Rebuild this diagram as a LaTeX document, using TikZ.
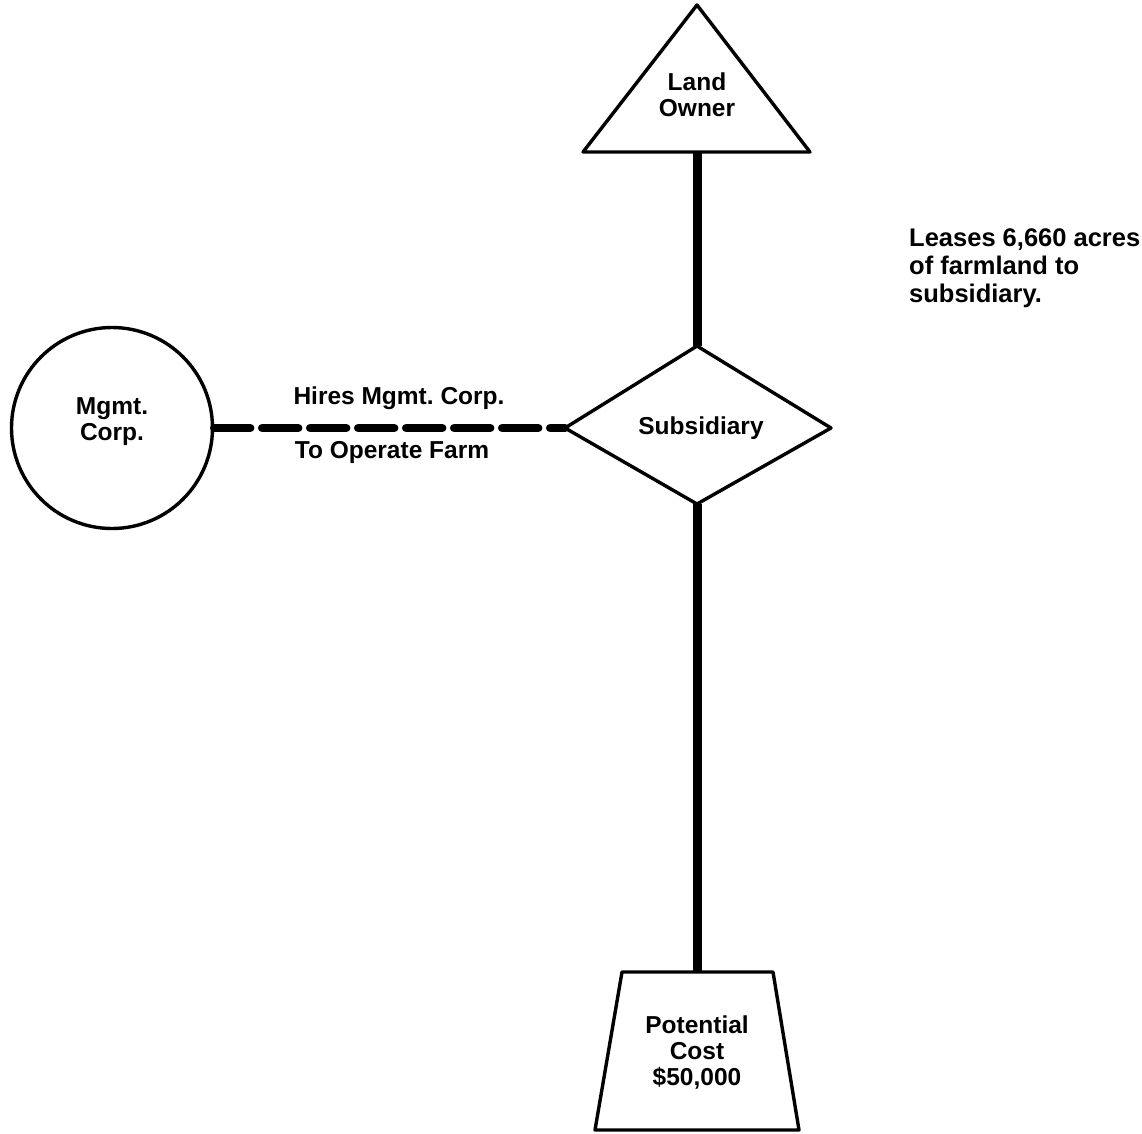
\documentclass[tikz,border=0pt]{standalone}
\usepackage{fontspec}
\setmainfont{Liberation Sans}
\frenchspacing
\begin{document}
\begin{tikzpicture}[x=1pt,y=-1pt,
  shapeline/.style={line width=3.4pt, line join=round},
  linkline/.style={line width=9pt},
  hireline/.style={line width=8.5pt, line cap=round, dash pattern=on 36pt off 12pt},
  lbl/.style={font=\bfseries\fontsize{24.5}{26}\selectfont, align=center, inner sep=0pt}]
\useasboundingbox (0,0) rectangle (1142,1133);
% triangle: Land Owner
\coordinate (triTop) at (697,5);
\coordinate (triL) at (583,152);
\coordinate (triR) at (810,152);
\coordinate (triB) at (697,152);
\draw[shapeline] (triTop) -- (triR) -- (triL) -- cycle;
\node[lbl] (land) at (697,95) {Land\\Owner};
% diamond: Subsidiary
\coordinate (diaT) at (697,346);
\coordinate (diaL) at (565,428);
\coordinate (diaR) at (831,428);
\coordinate (diaB) at (697,504);
\draw[shapeline] (diaT) -- (diaR) -- (diaB) -- (diaL) -- cycle;
\node[lbl] (sub) at (701,428) {Subsidiary};
% trapezoid: Potential Cost
\coordinate (trTL) at (622,972);
\coordinate (trTR) at (773,972);
\coordinate (trBR) at (799,1130);
\coordinate (trBL) at (595,1130);
\coordinate (trT) at (697,972);
\draw[shapeline] (trTL) -- (trTR) -- (trBR) -- (trBL) -- cycle;
\node[lbl] (cost) at (697,1052) {Potential\\Cost\\\$50,000};
% circle: Mgmt. Corp.
\node[draw, circle, line width=3.4pt, minimum size=201pt, inner sep=0pt] (mgmt) at (112,428) {};
\node[lbl] (mgmtlbl) at (112,422) {Mgmt.\\Corp.};
% connectors
\draw[linkline] (triB) -- (diaT);
\draw[linkline] (diaB) -- (trT);
\draw[hireline] (mgmt.east) -- (diaL);
% labels
\node[lbl] (hires) at (399,398) {Hires Mgmt. Corp.};
\node[lbl] (operate) at (392,452) {To Operate Farm};
\node[lbl, anchor=west, align=left, font=\bfseries\fontsize{25.5}{28}\selectfont] (leases) at (909,268) {Leases 6,660 acres\\of farmland to\\subsidiary.};
\end{tikzpicture}
\end{document}
